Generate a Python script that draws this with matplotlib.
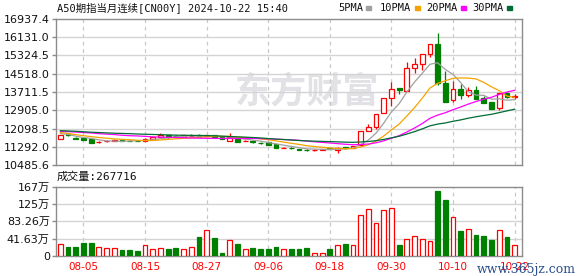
import matplotlib
matplotlib.use("Agg")
import matplotlib.pyplot as plt
import numpy as np

# ---------------- data ----------------
tick_idx = [3, 11, 19, 27, 35, 43, 51, 59]
tick_labels = ['08-05', '08-15', '08-27', '09-06', '09-18', '09-30', '10-10', '10-22']

open_ = [11634, 11842, 11692, 11665, 11620, 11480, 11540, 11565, 11590, 11560,
         11560, 11546, 11650, 11740, 11797, 11775, 11720, 11760, 11826, 11760,
         11800, 11710, 11560, 11620, 11535, 11532, 11470, 11480, 11400, 11225,
         11255, 11200, 11170, 11130, 11150, 11215, 11150, 11260, 11240, 11369,
         12001, 12178, 12797, 13460, 13875, 13768, 14785, 14935, 15378, 15832,
         14122, 13345, 13831, 13566, 13800, 13433, 13283, 13018, 13654, 13500]
high = [11830, 11860, 11710, 11680, 11630, 11540, 11590, 11620, 11600, 11580,
        11575, 11660, 11720, 11886, 11810, 11790, 11800, 11840, 11840, 11810,
        11810, 11720, 11886, 11630, 11580, 11545, 11480, 11490, 11410, 11270,
        11265, 11210, 11180, 11180, 11200, 11225, 11260, 11270, 11340, 11990,
        12297, 12750, 13440, 14167, 13890, 15024, 15201, 15390, 15830, 16332,
        14653, 14211, 14052, 13919, 13977, 13548, 13290, 13680, 13725, 13610]
low = [11620, 11775, 11620, 11580, 11440, 11450, 11500, 11550, 11530, 11530,
       11530, 11530, 11640, 11730, 11700, 11740, 11710, 11750, 11730, 11750,
       11730, 11640, 11550, 11500, 11525, 11460, 11430, 11380, 11220, 11215,
       11210, 11150, 11120, 11110, 11140, 11180, 11029, 11210, 11230, 11340,
       11990, 12090, 12790, 13093, 13610, 13750, 14538, 14684, 15271, 14021,
       13270, 13283, 13389, 13504, 13390, 13230, 12960, 12916, 13433, 13389]
close = [11811, 11790, 11640, 11600, 11460, 11500, 11550, 11600, 11540, 11545,
         11545, 11634, 11710, 11811, 11710, 11760, 11790, 11780, 11740, 11800,
         11740, 11650, 11710, 11515, 11565, 11500, 11440, 11390, 11230, 11255,
         11220, 11160, 11130, 11170, 11190, 11190, 11230, 11220, 11330, 11988,
         12178, 12739, 13433, 13831, 13787, 14759, 14935, 15378, 15819, 14122,
         13283, 13831, 13566, 13787, 13402, 13239, 12974, 13654, 13477, 13521]

ma5 = [11870, 11840, 11760, 11700, 11660, 11598, 11550, 11542, 11530, 11547,
       11558, 11575, 11597, 11651, 11684, 11725, 11756, 11770, 11756, 11774,
       11770, 11742, 11728, 11683, 11631, 11583, 11541, 11477, 11420, 11363,
       11307, 11251, 11199, 11187, 11174, 11170, 11184, 11202, 11234, 11394,
       11589, 11891, 12334, 12834, 13194, 13710, 14149, 14538, 14936, 15003,
       14707, 14487, 14124, 13718, 13574, 13565, 13394, 13411, 13349, 13373]
ma10 = [11920, 11880, 11830, 11780, 11740, 11700, 11670, 11640, 11620, 11604,
        11578, 11562, 11569, 11591, 11616, 11642, 11666, 11684, 11704, 11729,
        11748, 11749, 11749, 11720, 11703, 11677, 11642, 11603, 11552, 11497,
        11445, 11396, 11338, 11304, 11269, 11239, 11218, 11201, 11211, 11284,
        11380, 11538, 11768, 12034, 12294, 12650, 13020, 13436, 13885, 14098,
        14209, 14318, 14331, 14327, 14288, 14136, 13940, 13768, 13534, 13473]
ma20 = [11975, 11960, 11940, 11920, 11900, 11870, 11850, 11830, 11800, 11780,
        11770, 11750, 11730, 11715, 11710, 11700, 11690, 11680, 11672, 11666,
        11663, 11656, 11659, 11655, 11659, 11659, 11654, 11643, 11628, 11613,
        11596, 11573, 11544, 11512, 11486, 11458, 11430, 11402, 11381, 11390,
        11412, 11467, 11553, 11669, 11781, 11944, 12119, 12318, 12548, 12691,
        12794, 12928, 13049, 13180, 13291, 13393, 13480, 13602, 13709, 13786]
ma30 = [12000, 11990, 11975, 11955, 11935, 11920, 11905, 11890, 11880, 11870,
        11855, 11845, 11835, 11825, 11815, 11805, 11800, 11795, 11790, 11785,
        11775, 11760, 11745, 11730, 11715, 11700, 11680, 11655, 11630, 11610,
        11590, 11569, 11552, 11538, 11529, 11519, 11508, 11496, 11489, 11503,
        11524, 11561, 11618, 11686, 11755, 11855, 11960, 12080, 12216, 12293,
        12344, 12417, 12479, 12555, 12617, 12675, 12726, 12801, 12876, 12952]

volume = [280000, 216000, 216000, 312000, 312000, 208000, 184000, 184000, 136000, 136000,
          112000, 256000, 160000, 184000, 176000, 192000, 160000, 208000, 448000, 616000,
          424000, 64000, 376000, 280000, 160000, 192000, 168000, 168000, 216000, 160000,
          160000, 160000, 184000, 80000, 64000, 160000, 272000, 280000, 272000, 993000,
          1137000, 801000, 1113000, 1161000, 256000, 416000, 488000, 416000, 368000, 1561000,
          1337000, 944000, 592000, 656000, 496000, 472000, 376000, 632000, 448000, 267716]

price_ticks = [10485.6, 11292.0, 12098.5, 12905.0, 13711.5, 14518.0, 15324.5, 16131.0, 16937.4]
price_tick_labels = ['10485.6', '11292.0', '12098.5', '12905.0', '13711.5', '14518.0',
                     '15324.5', '16131.0', '16937.4']
vol_ticks = [0, 416300, 832600, 1248900, 1665200]
vol_tick_labels = ['0', '41.63万', '83.26万', '125万', '167万']

title = 'A50期指当月连续[CN00Y] 2024-10-22 15:40'
vol_title = '成交量:267716'
ma_names = ['5PMA', '10PMA', '20PMA', '30PMA']

# ---------------- style ----------------
plt.rcParams['font.family'] = ['DejaVu Sans', 'Noto Sans CJK SC']
UP = '#ff0000'
DOWN = '#008000'
MA_COLORS = ['#a0a0a0', '#f5a300', '#ff00ff', '#006b34']
GRID = '#d4d4d4'
FRAME = '#8c8c8c'

W, H = 578, 276
fig = plt.figure(figsize=(W / 100, H / 100), dpi=100)


def rect(l, t, r, b):
    return [l / W, 1 - b / H, (r - l) / W, (b - t) / H]


axp = fig.add_axes(rect(56, 19, 522.3, 165))
axv = fig.add_axes(rect(56, 186.5, 522.3, 256))

o = np.array(open_, float)
c = np.array(close, float)
hi = np.array(high, float)
lo = np.array(low, float)
x = np.arange(len(o))
up = c >= o
edge = np.where(up, UP, DOWN)
face = np.where(up, 'white', DOWN)

# candles
axp.vlines(x, lo, hi, colors=edge, lw=0.9, zorder=3)
axp.bar(x, np.maximum(np.abs(c - o), 8), bottom=np.minimum(o, c), width=0.62,
        color=face, edgecolor=edge, linewidth=0.9, zorder=4)

for vals, col in zip([ma5, ma10, ma20, ma30], MA_COLORS):
    axp.plot(x, vals, color=col, lw=0.9, zorder=5)

# volume
axv.bar(x, volume, width=0.62, color=face, edgecolor=edge, linewidth=0.9, zorder=3)

for ax in (axp, axv):
    ax.set_xlim(-0.57, 60)
    for s in ax.spines.values():
        s.set_color(FRAME)
        s.set_linewidth(1)
    for t in tick_idx:
        ax.axvline(t, color='#c8c8c8', lw=0.9, ls=(0, (3, 3)), zorder=1)
    ax.tick_params(axis='y', length=3, width=1, color=FRAME, pad=1.5,
                   labelsize=8, labelcolor='#111111')

axp.set_ylim(10485.6, 16937.4)
axp.set_yticks(price_ticks)
axp.set_yticklabels(price_tick_labels)
for v in price_ticks[1:-1]:
    axp.axhline(v, color=GRID, lw=1, zorder=1)
axp.set_xticks([])

axv.set_ylim(0, 1665200)
axv.set_yticks(vol_ticks)
axv.set_yticklabels(vol_tick_labels)
for v in vol_ticks[1:-1]:
    axv.axhline(v, color=GRID, lw=1, zorder=1)
axv.set_xticks(tick_idx)
axv.set_xticklabels(tick_labels)
axv.tick_params(axis='x', length=0, pad=4, labelsize=7.5, labelcolor='#ff0000')

# watermark
axp.text((307 - 56) / 466, 0.50, '东方财富', transform=axp.transAxes, fontsize=26,
         fontweight='bold', color='#e2e2e6', ha='center', va='center', zorder=0,
         family=['Noto Sans CJK SC'])

# header texts
fig.text(57 / W, 1 - 8 / H, title, fontsize=7.5, va='center', ha='left', color='#111111',
         family=['DejaVu Sans Mono', 'Noto Sans CJK SC'])
leg_x = [338, 380, 426, 472]
for name, col, lx in zip(ma_names, MA_COLORS, leg_x):
    fig.text(lx / W, 1 - 8 / H, name, fontsize=7.5, va='center', ha='left',
             color='#111111', family=['DejaVu Sans Mono'])
    sq_x = lx + 6.3 * len(name) + 3
    fig.patches.append(plt.Rectangle((sq_x / W, 1 - 10 / H), 5 / W, 4 / H,
                                     transform=fig.transFigure, color=col, figure=fig))
fig.text(57 / W, 1 - 177 / H, vol_title, fontsize=8, va='center', ha='left',
         color='#111111', family=['DejaVu Sans Mono', 'Noto Sans CJK SC'])
fig.text(576 / W, 1 - 270 / H, 'www.365jz.com', fontsize=9, va='center', ha='right',
         color='#2b4e8c', family=['DejaVu Serif'])

fig.savefig('out.png', dpi=100)
